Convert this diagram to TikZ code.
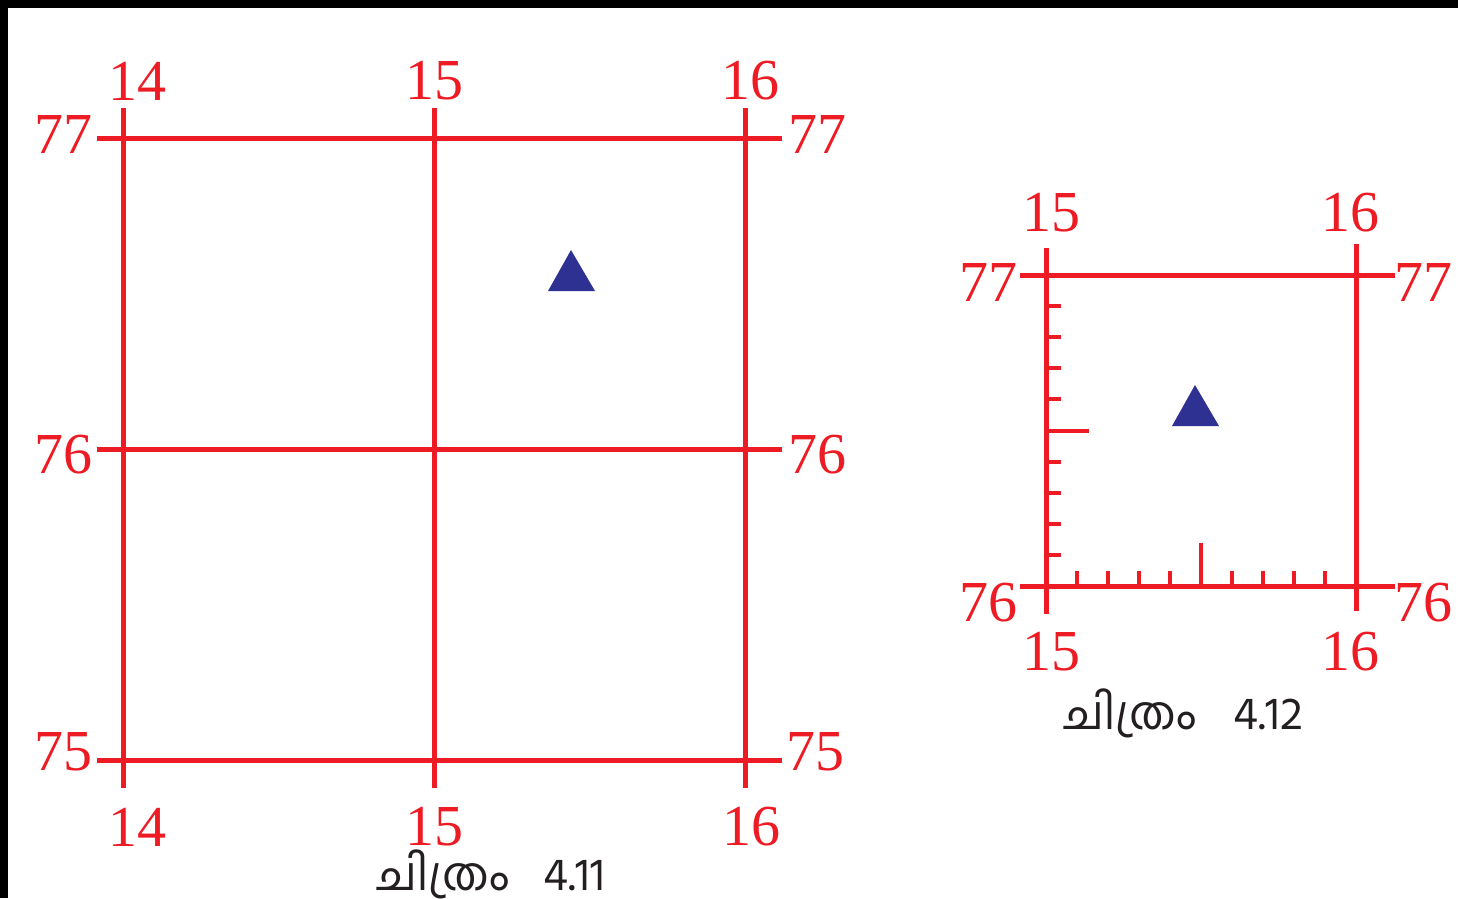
\documentclass[tikz,border=0pt]{standalone}
\usepackage{fontspec}
\setmainfont{Liberation Serif}
\newfontfamily\mlfont[Script=Malayalam]{Hind Kochi}
\definecolor{gridred}{RGB}{237,28,36}
\definecolor{triblue}{RGB}{46,49,146}
\definecolor{captxt}{RGB}{35,31,32}
\begin{document}
\begin{tikzpicture}[x=1pt,y=-1pt,
  gridline/.style={draw=gridred,line width=5pt},
  tickline/.style={draw=gridred,line width=4pt},
  num/.style={text=gridred,font=\fontsize{58}{58}\selectfont,inner sep=0pt},
  captext/.style={text=captxt,font=\mlfont\fontsize{46}{46}\selectfont,inner sep=0pt,anchor=base west},
  tri/.style={fill=triblue}]
\useasboundingbox (0,0) rectangle (1458,898);
\fill[white] (0,0) rectangle (1458,898);
\fill[black] (0,0) rectangle (1458,8);
\fill[black] (0,0) rectangle (8,898);
% ---- figure 4.11 ----
\foreach \x in {123,434,745} \draw[gridline] (\x,108) -- (\x,788);
\foreach \y in {138,449,760} \draw[gridline] (97,\y) -- (782,\y);
\node[num] (t14) at (137,81) {14};
\node[num] (t15) at (434,81) {15};
\node[num] (t16) at (750,81) {16};
\node[num] (b14) at (137,827) {14};
\node[num] (b15) at (434,827) {15};
\node[num] (b16) at (751,827) {16};
\node[num] (l77) at (63,135) {77};
\node[num] (l76) at (63,455) {76};
\node[num] (l75) at (63,752) {75};
\node[num] (r77) at (817,135) {77};
\node[num] (r76) at (817,455) {76};
\node[num] (r75) at (815,752) {75};
\fill[tri] (571,250) -- (595,291) -- (548,291) -- cycle;
\node[captext] (c1a) at (376,890) {ചിത്രം};
\node[captext] (c1b) at (543,890) {4.11};
% ---- figure 4.12 ----
\draw[gridline] (1046,248) -- (1046,614);
\draw[gridline] (1356,244) -- (1356,611);
\draw[gridline] (1020,275) -- (1395,275);
\draw[gridline] (1020,586) -- (1395,586);
\foreach \k in {1,...,9} {
  \pgfmathsetmacro{\len}{ifthenelse(\k==5,43,15)}
  \draw[tickline] (1046,586-\k*31.1) -- (1046+\len,586-\k*31.1);
  \draw[tickline] (1046+\k*31,586) -- (1046+\k*31,586-\len);
}
\node[num] (s15t) at (1051,213) {15};
\node[num] (s16t) at (1350,213) {16};
\node[num] (s15b) at (1051,652) {15};
\node[num] (s16b) at (1350,652) {16};
\node[num] (s77l) at (988,283) {77};
\node[num] (s77r) at (1423,283) {77};
\node[num] (s76l) at (988,603) {76};
\node[num] (s76r) at (1423,603) {76};
\fill[tri] (1195,385) -- (1219,426) -- (1172,426) -- cycle;
\node[captext] (c2a) at (1063,729) {ചിത്രം};
\node[captext] (c2b) at (1233,729) {4.12};
\end{tikzpicture}
\end{document}
